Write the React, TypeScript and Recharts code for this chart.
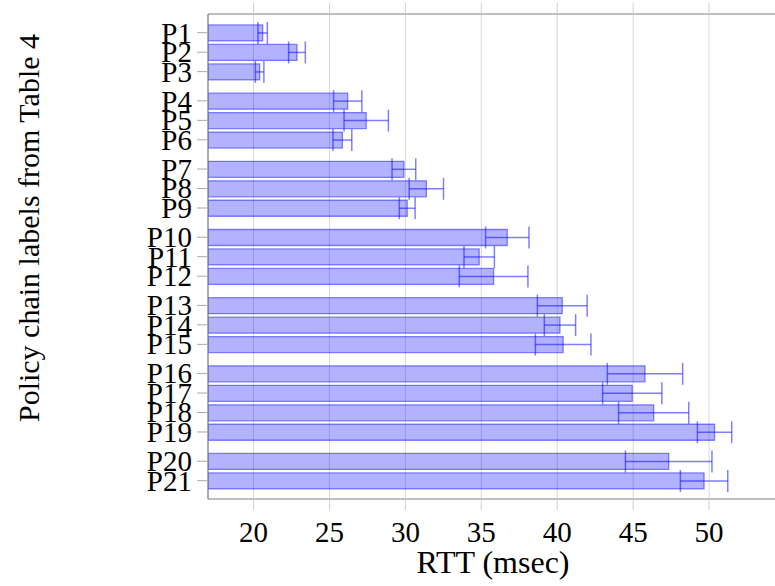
import React from 'react';
import { ComposedChart, Bar, XAxis, YAxis, CartesianGrid, ErrorBar } from 'recharts';

// Policy chains grouped as in the reference (gaps between groups)
const groups: string[][] = [
  ['P1', 'P2', 'P3'],
  ['P4', 'P5', 'P6'],
  ['P7', 'P8', 'P9'],
  ['P10', 'P11', 'P12'],
  ['P13', 'P14', 'P15'],
  ['P16', 'P17', 'P18', 'P19'],
  ['P20', 'P21'],
];

const rttMean = [
  20.6, 22.86, 20.4,
  26.2, 27.42, 25.85,
  29.9, 31.38, 30.12,
  36.71, 34.86, 35.81,
  40.33, 40.18, 40.39,
  45.78, 44.94, 46.35, 50.36,
  47.34, 49.67,
];

const rttErr = [
  0.31, 0.55, 0.28,
  0.93, 1.46, 0.62,
  0.78, 1.13, 0.52,
  1.43, 1.0, 2.26,
  1.64, 1.03, 1.83,
  2.48, 1.95, 2.31, 1.13,
  2.85, 1.56,
];

const xTicks = [20, 25, 30, 35, 40, 45, 50];

const GROUP_GAP = 0.5;

type Row = { label: string; pos: number; mean: number; err: number };
const data: Row[] = [];
{
  let i = 0;
  groups.forEach((g, gi) => {
    g.forEach((label) => {
      data.push({ label, pos: i + gi * GROUP_GAP, mean: rttMean[i], err: rttErr[i] });
      i++;
    });
  });
}
const posTicks = data.map((d) => d.pos);
const labelByPos = new Map(data.map((d) => [d.pos, d.label]));

const FONT = "'Liberation Serif', 'DejaVu Serif', serif";
const textStyle: React.CSSProperties = { fontFamily: FONT };

const XTick = (props: any) => {
  const { x, payload } = props;
  return (
    <text x={x} y={542} textAnchor="middle" style={textStyle} fontSize={29} fill="#000">
      {payload.value}
    </text>
  );
};

const YTick = (props: any) => {
  const { y, payload } = props;
  return (
    <text x={192} y={y} dy="0.34em" textAnchor="end" style={textStyle} fontSize={29} fill="#000">
      {labelByPos.get(payload.value) ?? ''}
    </text>
  );
};

export default function App() {
  return (
    <div
      style={{
        position: 'absolute',
        left: 0,
        top: 0,
        width: 775,
        height: 586,
        overflow: 'hidden',
        background: '#fff',
        fontFamily: FONT,
      }}
    >
      <ComposedChart
        width={785}
        height={586}
        layout="vertical"
        data={data}
        margin={{ top: 0, right: 0, bottom: 0, left: 0 }}
      >
        <CartesianGrid horizontal={false} stroke="#d9d9d9" strokeWidth={1} />
        <XAxis
          type="number"
          dataKey="mean"
          domain={[17, 55]}
          allowDataOverflow
          ticks={xTicks}
          height={87}
          tickSize={11}
          tickLine={{ stroke: '#d0d0d0' }}
          axisLine={{ stroke: '#808080', strokeWidth: 1.2 }}
          tick={<XTick />}
          label={{
            content: () => (
              <text x={493} y={573} textAnchor="middle" style={textStyle} fontSize={32} fill="#000">
                RTT (msec)
              </text>
            ),
          }}
        />
        <XAxis
          xAxisId="top"
          orientation="top"
          type="number"
          domain={[17, 55]}
          allowDataOverflow
          ticks={xTicks}
          height={14}
          tickSize={11}
          tickLine={{ stroke: '#d0d0d0' }}
          axisLine={{ stroke: '#808080', strokeWidth: 1.2 }}
          tickFormatter={() => ''}
        />
        <YAxis
          type="number"
          dataKey="pos"
          domain={[-0.96, 23.94]}
          allowDataOverflow
          ticks={posTicks}
          interval={0}
          width={208}
          tickSize={11}
          tickMargin={5}
          tickLine={{ stroke: '#a8a8a8' }}
          axisLine={{ stroke: '#808080', strokeWidth: 1.2 }}
          tick={<YTick />}
          label={{
            content: () => (
              <text
                x={28}
                y={228}
                transform="rotate(-90 28 228)"
                textAnchor="middle"
                dominantBaseline="central"
                style={textStyle}
                fontSize={30}
                fill="#000"
              >
                Policy chain labels from Table 4
              </text>
            ),
          }}
        />
        <Bar
          dataKey="mean"
          barSize={16}
          fill="#0000ff"
          fillOpacity={0.3}
          stroke="#0000ff"
          strokeOpacity={0.45}
          strokeWidth={1.3}
          isAnimationActive={false}
        >
          <ErrorBar
            dataKey="err"
            direction="x"
            width={11}
            stroke="#0000ff"
            strokeOpacity={0.5}
            strokeWidth={1.5}
            isAnimationActive={false}
          />
        </Bar>
      </ComposedChart>
    </div>
  );
}
